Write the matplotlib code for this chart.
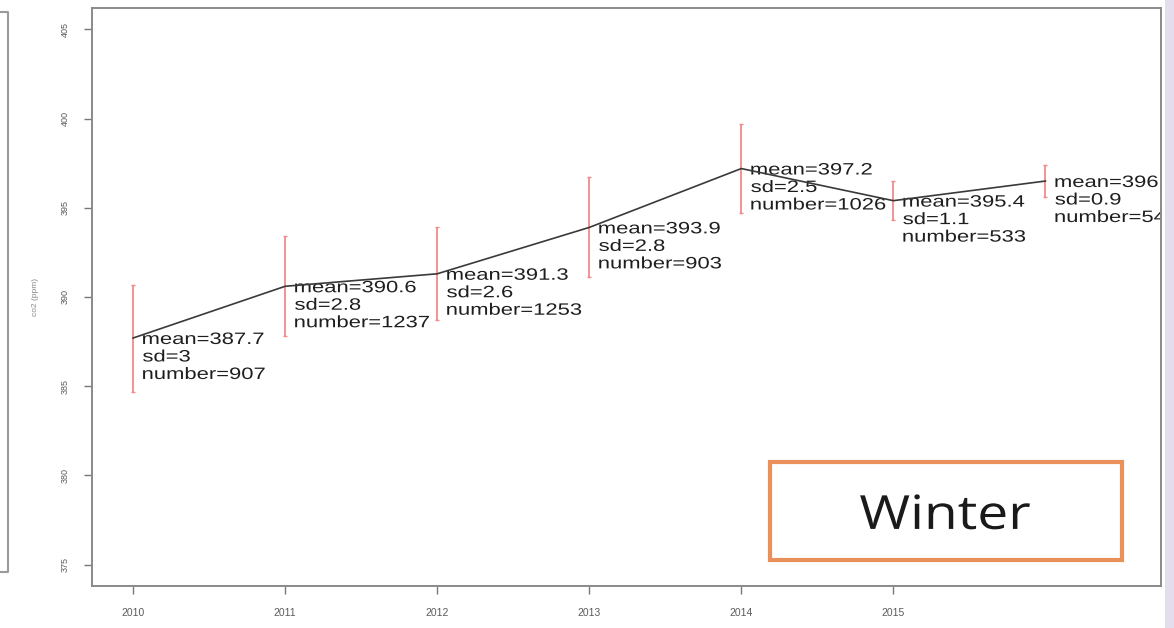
import matplotlib.pyplot as plt
from matplotlib.lines import Line2D
from matplotlib.patches import Rectangle, PathPatch
from matplotlib.textpath import TextPath
from matplotlib.font_manager import FontProperties
from matplotlib.transforms import Affine2D, ScaledTranslation

plt.rcParams['font.family'] = ['Liberation Sans', 'DejaVu Sans']

years = [2010, 2011, 2012, 2013, 2014, 2015, 2016]
means = [387.7, 390.6, 391.3, 393.9, 397.2, 395.4, 396.5]
sds = [3, 2.8, 2.6, 2.8, 2.5, 1.1, 0.9]
counts = [907, 1237, 1253, 903, 1026, 533, 541]
xticks = [2010, 2011, 2012, 2013, 2014, 2015]
yticks = [375, 380, 385, 390, 395, 400, 405]

W, H = 1174, 628
fig = plt.figure(figsize=(W / 100, H / 100), dpi=100)
fig.patch.set_facecolor('white')


def wide_text(target, s, x, y, base, sx, sy, dx=0, dy=0, family='Liberation Sans',
              color='#1e1e1e', ha='left', clip=True):
    # text drawn as a path so it can be scaled unevenly (sx, sy in pixels per em)
    path = TextPath((0, 0), s, size=1, prop=FontProperties(family=family))
    ext = path.get_extents()
    x0 = -ext.x0 if ha == 'left' else -(ext.x0 + ext.x1) / 2
    tr = (Affine2D().translate(x0, -0.36).scale(sx, sy).translate(dx, dy)
          + ScaledTranslation(x, y, base))
    p = PathPatch(path, transform=tr, facecolor=color, edgecolor='none', lw=0)
    target.add_artist(p)
    if clip and hasattr(target, 'patch'):
        p.set_clip_path(target.patch)
    return p


# axes box in pixel terms
l, r, t, b = 92, 1161, 8, 586
ax = fig.add_axes([l / W, 1 - b / H, (r - l) / W, (b - t) / H])
ax.set_xlim(2009.73, 2016.76)
ax.set_ylim(373.8, 406.2)

ax.errorbar(years, means, yerr=sds, fmt='none', ecolor='#f08a8a',
            elinewidth=1.3, capsize=1.5, capthick=1)
ax.plot(years, means, color='#3a3a3a', lw=1.2)

for x, m, s, n in zip(years, means, sds, counts):
    for i, line in enumerate([f'mean={m}', f'sd={s:g}', f'number={n}']):
        wide_text(ax, line, x, m, ax.transData, 22, 16.5, dx=10, dy=-i * 17.5)

ax.set_xticks(xticks)
ax.set_yticks(yticks)
ax.tick_params(axis='both', length=6, width=1, color='#777777',
               labelcolor='#5a5a5a', pad=10)
ax.tick_params(axis='x', labelsize=7.5)
ax.tick_params(axis='y', labelsize=6.5)
for lab in ax.get_yticklabels():
    lab.set_rotation(90)
    lab.set_va('center')
for sp in ax.spines.values():
    sp.set_color('#8a8a8a')
    sp.set_linewidth(1.4)

ax.set_ylabel('co2 (ppm)', fontsize=6, color='#888888', labelpad=16)

# season tag in the lower right
fig.add_artist(Rectangle((770 / W, 1 - 560 / H), (1122 - 770) / W, (560 - 462) / H,
                         transform=fig.transFigure, fill=False,
                         edgecolor='#e8915a', lw=3))
wide_text(fig, 'Winter', 945 / W, 1 - 512 / H, fig.transFigure, 55, 47,
          family='Open Sans', color='#1a1a1a', ha='center', clip=False)

# slide edges
fig.add_artist(Line2D([0, 8 / W, 8 / W, 0],
                      [1 - 12 / H, 1 - 12 / H, 1 - 572 / H, 1 - 572 / H],
                      transform=fig.transFigure, color='#9a9a9a', lw=1.5))
fig.add_artist(Rectangle((1165 / W, 0), 9 / W, 1, transform=fig.transFigure,
                         facecolor='#e4ddee', edgecolor='none'))

plt.savefig('out.png', dpi=100)
